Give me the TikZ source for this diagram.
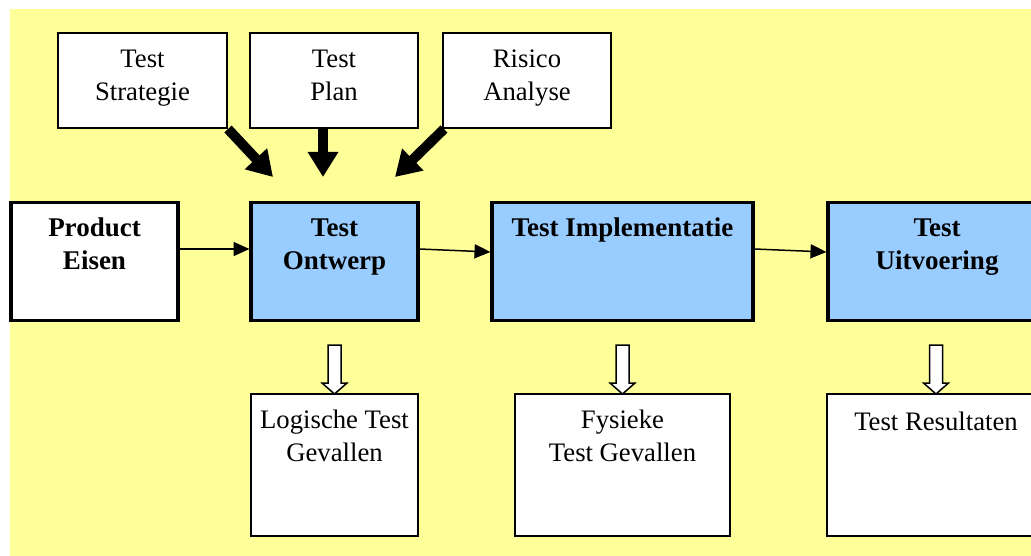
\documentclass[tikz,border=0pt]{standalone}
\usepackage{fontspec}
\setmainfont{Liberation Serif}
\usetikzlibrary{arrows.meta,calc}
\definecolor{bgyellow}{HTML}{FFFF99}
\definecolor{boxblue}{HTML}{99CCFF}
\begin{document}
\begin{tikzpicture}[x=1pt,y=-1pt,
  thinbox/.style={draw=black,fill=white,line width=1.5pt,rectangle,inner sep=0pt,outer sep=0pt,anchor=north west},
  thickbox/.style={draw=black,line width=3.5pt,rectangle,inner sep=0pt,outer sep=0pt,anchor=north west},
  txt/.style={inner sep=0pt,anchor=north,align=center,font=\fontsize{26.7}{33}\selectfont},
  btxt/.style={txt,font=\fontsize{27}{33}\selectfont\bfseries},
  flow/.style={draw=black,line width=1.5pt,-{Triangle[length=16pt,width=14pt]}},
  feed/.style={draw=black,line width=10pt,-{Triangle[length=25pt,width=29pt]}},
  hollow/.style={draw=black,fill=white,line width=1.5pt,line join=miter}]
\useasboundingbox (0,0) rectangle (1031,556);
\fill[bgyellow] (10,9) rectangle (1031,556);

% top input boxes
\node[thinbox,minimum width=169pt,minimum height=95pt] (ts) at (58,33) {};
\node[thinbox,minimum width=168pt,minimum height=95pt] (tp) at (250,33) {};
\node[thinbox,minimum width=168pt,minimum height=95pt] (ra) at (443,33) {};

% main process boxes
\node[thickbox,fill=white,minimum width=167pt,minimum height=118pt] (pe) at (11,202.5) {};
\node[thickbox,fill=boxblue,minimum width=167pt,minimum height=118pt] (to) at (251,202.5) {};
\node[thickbox,fill=boxblue,minimum width=261pt,minimum height=118pt] (ti) at (492,202.5) {};
\node[thickbox,fill=boxblue,minimum width=218pt,minimum height=118pt] (tu) at (828,202.5) {};

% output boxes
\node[thinbox,minimum width=167pt,minimum height=142pt] (lg) at (251,394) {};
\node[thinbox,minimum width=215pt,minimum height=142pt] (fg) at (515,394) {};
\node[thinbox,minimum width=218pt,minimum height=142pt] (tr) at (827,394) {};

% texts
\node[txt] (tst) at ($(ts.north)+(0,14)$) {\rule{0pt}{20pt}Test\\Strategie};
\node[txt] (tpt) at ($(tp.north)+(0,14)$) {\rule{0pt}{20pt}Test\\Plan};
\node[txt] (rat) at ($(ra.north)+(0,14)$) {\rule{0pt}{20pt}Risico\\Analyse};
\node[btxt] (pet) at ($(pe.north)+(0,14)$) {\rule{0pt}{20pt}Product\\Eisen};
\node[btxt] (tot) at ($(to.north)+(0,14)$) {\rule{0pt}{20pt}Test\\Ontwerp};
\node[btxt] (tit) at ($(ti.north)+(0,14)$) {\rule{0pt}{20pt}Test Implementatie};
\node[btxt] (tut) at ($(tu.north)+(0,14)$) {\rule{0pt}{20pt}Test\\Uitvoering};
\node[txt] (lgt) at ($(lg.north)+(0,14)$) {\rule{0pt}{20pt}Logische Test\\Gevallen};
\node[txt] (fgt) at ($(fg.north)+(0,14)$) {\rule{0pt}{20pt}Fysieke\\Test Gevallen};
\node[txt] (trt) at ($(tr.north)+(0,16)$) {\rule{0pt}{20pt}Test Resultaten};

% flow arrows
\draw[flow] ($(pe.north east)+(1.5,46.5)$) -- ($(to.north west)+(-1.5,46.5)$);
\draw[flow] ($(to.north east)+(1.5,46.5)$) -- ($(ti.north west)+(-1.5,49.5)$);
\draw[flow] ($(ti.north east)+(1.5,46.5)$) -- ($(tu.north west)+(-1.5,49.5)$);

% feeding arrows
\coordinate (fl) at ($(to.north west)+(22,-25.5)$);
\coordinate (fm) at ($(to.north west)+(72,-25.5)$);
\coordinate (fr) at ($(to.north west)+(144,-25.5)$);
\draw[feed] ($(ts.south east)+(1,1)$) -- (fl);
\draw[feed] ($(tp.south west)+(73,0)$) -- (fm);
\draw[feed] ($(ra.south west)+(1,1)$) -- (fr);

% hollow arrows
\foreach \b in {lg,fg,tr}{
  \draw[hollow] ($(\b.north)+(-6.5,-49)$) -- ($(\b.north)+(6.5,-49)$) -- ($(\b.north)+(6.5,-11)$)
    -- ($(\b.north)+(12.5,-11)$) -- ($(\b.north)+(0,0)$) -- ($(\b.north)+(-12.5,-11)$)
    -- ($(\b.north)+(-6.5,-11)$) -- cycle;
}
\end{tikzpicture}
\end{document}
